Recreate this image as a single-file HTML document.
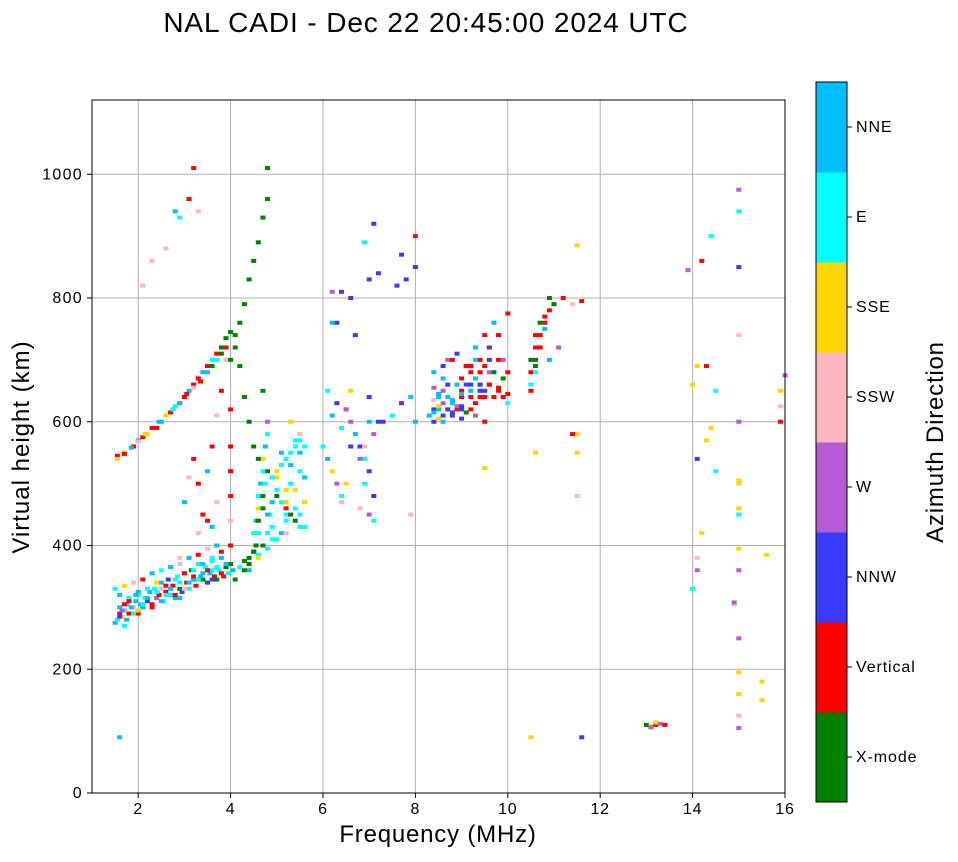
<!DOCTYPE html>
<html><head><meta charset="utf-8"><style>
body{margin:0;background:#fff;font-family:"Liberation Sans",sans-serif;}
svg text{font-family:"Liberation Sans",sans-serif;}
</style></head><body>
<svg id="chart" width="958" height="857" viewBox="0 0 958 857" xmlns="http://www.w3.org/2000/svg">
<rect width="958" height="857" fill="#fff"/>
<text x="426" y="32" font-size="28" letter-spacing="0.9" text-anchor="middle">NAL CADI - Dec 22 20:45:00 2024 UTC</text>
<g id="grid"></g>
<g id="marks"></g>
<rect x="92" y="100" width="693" height="693" fill="none" stroke="#000" stroke-width="1"/>
<g id="axes"></g>
<text x="438" y="842" font-size="24" letter-spacing="0.8" text-anchor="middle">Frequency (MHz)</text>
<text transform="translate(29,447) rotate(-90)" font-size="24" letter-spacing="1" text-anchor="middle">Virtual height (km)</text>
<g id="colorbar"></g>
<text transform="translate(943,442) rotate(-90)" font-size="24" letter-spacing="0.8" text-anchor="middle">Azimuth Direction</text>
</svg>
<script>
const xTicks=[2,4,6,8,10,12,14,16];
const yTicks=[0,200,400,600,800,1000];
const dirNames=["X-mode","Vertical","NNW","W","SSW","SSE","E","NNE"];
const dirColors=["#008000","#ff0000","#3a3aff","#b65ad6","#ffb6c1","#ffd700","#00ffff","#00bfff"];
// echoes: frequency (MHz)
const echoFreq=[
1.5,1.55,1.6,1.6,1.65,1.7,1.75,1.8,1.8,1.9,1.95,2.0,2.0,2.05,2.1,2.15,2.2,2.25,2.3,2.35,2.4,2.45,2.5,2.55,2.6,2.65,2.7,2.75,2.8,2.85,2.9,2.95,3.0,3.05,3.1,3.15,3.2,3.25,3.3,3.35,3.4,3.45,3.5,3.55,3.6,3.65,3.7,3.75,3.8,3.85,3.9,3.95,4.0,4.05,4.1,4.2,4.3,4.4,4.5,4.6,4.7,4.8,
1.5,1.6,1.7,1.8,1.9,2.0,2.1,2.2,2.3,2.4,2.5,2.6,2.7,2.8,2.9,3.0,3.1,3.2,3.3,3.4,3.5,3.6,3.7,3.8,1.7,2.1,2.5,2.9,3.3,3.6,
1.55,1.7,1.9,2.0,2.1,2.2,2.4,2.5,2.6,2.7,2.8,2.9,3.0,3.1,3.2,3.3,3.4,3.5,3.6,3.7,3.8,3.9,4.0,
1.55,1.7,1.85,2.0,2.15,2.3,2.45,2.6,2.75,2.9,3.05,3.2,3.35,3.5,3.6,3.7,3.8,3.9,
3.3,3.5,3.6,3.7,3.8,3.9,4.0,4.0,4.0,4.0,4.0,4.0,3.7,3.5,3.3,3.2,3.1,3.0,2.9,3.4,3.6,
4.5,4.55,4.6,4.6,4.65,4.7,4.7,4.75,4.8,4.8,4.85,4.9,5.0,5.0,5.1,5.1,5.2,5.2,5.3,5.3,5.4,5.4,5.5,5.5,5.5,5.4,5.3,5.2,5.1,5.0,4.9,4.8,5.6,5.6,5.6,5.6,4.3,4.4,4.6,4.9,5.2,5.5,
4.4,4.5,4.55,4.6,4.6,4.7,4.7,4.75,4.8,4.6,4.5,4.4,4.3,4.2,4.1,4.7,
6.0,6.1,6.2,6.3,6.4,6.5,6.6,6.7,6.8,6.9,7.0,7.1,7.2,6.2,6.4,6.6,6.8,7.0,6.1,6.3,6.5,6.9,7.1,6.3,6.7,6.2,6.6,7.0,7.3,7.5,7.7,7.9,8.0,6.4,6.8,6.5,7.0,7.1,6.9,7.9,
8.3,8.4,8.5,8.6,8.7,8.8,8.9,9.0,9.1,9.2,9.3,9.4,9.5,9.6,9.7,9.8,9.9,10.0,8.4,8.6,8.8,9.0,9.2,9.4,9.6,9.8,10.0,8.5,8.7,8.9,9.1,9.3,9.5,9.7,9.9,8.4,8.6,8.8,9.0,9.2,9.4,9.6,9.8,9.0,9.2,9.4,9.6,9.3,9.5,
10.5,10.6,10.7,10.8,10.9,11.0,11.2,11.4,11.6,10.5,10.6,10.7,10.8,10.9,10.5,10.6,10.7,10.8,10.5,10.6,10.7,10.9,11.1,11.5,11.5,10.6,
6.4,6.6,6.9,7.1,7.2,7.6,7.8,8.0,8.0,6.2,7.0,7.7,
4.8,4.8,4.7,4.6,4.5,4.4,4.3,4.2,4.1,4.0,3.2,3.3,2.9,2.6,2.3,2.1,3.1,2.8,
13.0,13.1,13.2,13.3,13.4,13.1,13.2,10.5,11.6,1.6,
13.9,14.0,14.1,14.2,14.3,14.4,14.5,14.1,14.3,14.5,14.4,14.2,14.1,14.1,14.0,15.0,15.0,15.0,15.0,15.0,15.0,15.0,15.0,15.0,15.0,15.0,15.0,15.0,15.0,15.0,15.0,15.5,15.5,15.6,15.9,15.9,16.0,15.9,14.9,14.9,11.5,11.4,11.5,9.5,10.6,
8.4,8.4,8.4,8.5,8.5,8.5,8.6,8.6,8.6,8.7,8.7,8.8,8.8,8.9,8.9,9.0,9.0,9.0,9.1,9.1,9.2,9.2,9.3,9.3,9.4,9.4,9.5,9.5,9.6,9.6,9.7,9.8,9.9,10.0,10.0,
1.6,1.65,1.7,1.75,1.8,1.85,1.9,1.95,2.0,2.1,2.2,2.3,2.4,2.5,2.6,2.7,2.8,2.9,3.0,3.1,3.2,3.3,3.4,3.5,3.6,3.7,3.8,3.9,
5.0,5.1,5.2,5.3,5.4,5.5,4.9,5.0,5.1,5.2,5.3,5.4,5.5,5.2,5.0,4.8
];
// echoes: virtual height (km)
const echoHeight=[
275,280,290,300,285,295,305,290,315,300,310,290,320,305,300,315,310,325,305,330,315,320,340,310,325,345,320,335,315,350,330,325,355,340,330,360,345,335,370,350,345,365,340,355,375,350,345,360,380,350,365,355,370,360,345,365,375,360,390,385,400,395,
330,320,335,310,340,325,345,330,355,340,360,335,365,345,370,355,380,360,385,370,395,380,400,390,270,300,330,315,345,360,
545,550,560,570,575,580,590,600,610,615,625,630,640,650,660,670,680,690,700,710,720,735,745,
540,548,558,568,580,590,600,610,620,630,645,655,665,680,690,700,710,720,
500,520,560,610,650,700,620,560,520,480,440,400,470,440,420,540,510,470,380,450,430,
420,440,460,480,500,520,540,560,580,600,450,470,490,510,530,550,440,470,500,530,460,490,520,550,580,570,600,450,420,410,430,450,430,470,510,560,360,370,380,410,420,450,
380,390,400,420,440,460,480,500,520,540,560,600,640,690,720,650,
560,540,520,500,480,620,600,580,560,540,520,580,600,610,590,560,540,600,650,630,620,500,480,760,740,810,650,640,600,610,630,640,600,470,460,500,450,440,560,450,
610,620,640,650,660,630,620,640,660,680,670,650,640,660,680,650,640,630,600,600,610,620,640,660,680,700,680,620,700,710,690,720,740,760,700,680,690,700,670,650,660,720,740,650,690,700,720,610,600,
700,720,740,760,780,790,800,790,795,680,700,740,770,800,660,690,720,750,650,740,760,700,720,550,580,680,
810,800,890,920,840,820,830,850,900,760,830,870,
1010,960,930,890,860,830,790,760,740,700,1010,940,930,880,860,820,960,940,
110,108,110,112,110,106,114,90,90,90,
845,660,690,860,690,900,650,540,570,520,590,420,380,360,330,975,940,850,740,600,505,500,450,395,360,250,195,160,125,105,460,180,150,385,600,650,675,625,305,308,480,580,885,525,550,
615,635,655,605,625,645,610,630,670,620,640,615,635,625,660,605,625,645,615,690,620,660,630,700,640,680,650,690,660,700,640,655,670,645,775,
285,295,305,280,310,300,290,320,295,305,315,300,325,310,320,330,320,340,330,340,350,345,355,360,345,365,355,370,
480,470,460,450,440,430,510,520,530,540,550,560,570,490,410,420
];
// echoes: azimuth direction index
const echoDir=[
7,6,1,7,5,6,7,1,6,4,7,1,6,7,1,6,2,7,1,6,3,1,7,6,1,2,6,1,7,6,0,2,7,1,6,0,7,1,6,7,0,6,2,7,6,1,0,6,7,1,0,6,0,7,0,6,0,7,0,6,0,6,
6,7,5,6,4,7,1,6,7,5,6,1,7,6,4,1,7,6,1,7,4,6,7,1,6,7,4,7,1,6,
1,5,1,7,1,5,1,7,5,1,6,1,1,7,1,1,7,1,6,1,0,0,0,
5,1,7,4,5,1,7,5,6,7,1,4,1,7,0,6,0,1,
1,7,1,4,1,4,1,1,1,1,4,1,4,1,4,1,4,7,4,1,7,
6,7,5,6,7,6,5,7,6,3,6,7,6,5,6,7,6,5,6,7,6,5,6,7,4,6,5,6,7,5,6,7,6,5,7,6,0,0,5,6,4,6,
0,0,0,6,0,0,0,6,0,0,0,0,0,0,0,0,
6,7,5,3,6,2,3,7,2,6,2,3,2,7,6,2,3,7,6,2,3,6,2,2,2,3,5,2,2,6,2,7,7,4,4,5,3,6,4,4,
7,2,7,3,2,7,1,1,2,1,7,2,1,1,0,1,1,6,2,7,2,2,1,7,3,1,1,7,3,2,1,7,1,7,3,7,2,1,1,7,2,1,1,1,1,1,2,3,1,
0,1,7,1,1,0,1,4,1,1,0,1,1,0,6,0,1,7,1,1,0,7,3,5,5,6,
2,2,6,2,2,2,2,2,1,7,2,2,
0,0,0,0,0,0,0,0,0,0,1,4,6,4,4,4,1,7,
0,5,1,3,1,3,5,5,2,7,3,5,5,1,1,
6,6,2,5,6,5,5,4,3,6,3,6,2,4,3,5,5,6,5,3,3,5,5,4,3,5,5,5,5,1,5,3,4,4,3,4,1,5,5,5,7,4,3,5,5,
7,2,3,7,2,7,2,7,3,7,2,2,7,0,1,1,2,1,7,1,1,2,1,1,2,1,1,0,1,1,2,3,1,7,1,
7,6,7,5,6,7,1,6,7,6,7,1,6,4,7,1,6,7,1,2,6,1,7,0,6,1,0,0,
6,6,5,6,6,6,6,6,5,6,6,6,6,6,6,6
];
const X0=92,X1=785,Y0=793,Y1=100,FMIN=1,FMAX=16,HMIN=0,HMAX=1120;
const xs=f=>X0+(f-FMIN)/(FMAX-FMIN)*(X1-X0);
const ys=h=>Y0-(h-HMIN)/(HMAX-HMIN)*(Y0-Y1);
const NS="http://www.w3.org/2000/svg";
function mk(tag,attrs,parent){const e=document.createElementNS(NS,tag);for(const k in attrs)e.setAttribute(k,attrs[k]);parent.appendChild(e);return e;}
const grid=document.getElementById('grid'),axes=document.getElementById('axes');
xTicks.forEach(t=>{const x=xs(t);
 if(t<16){const g=mk('line',{x1:x,x2:x,y1:Y1,y2:Y0,stroke:'#b0b0b0','stroke-width':1},grid);
 
 }
 const tk=mk('line',{x1:x,x2:x,y1:Y0,y2:Y0+5,stroke:'#000'},axes);
 
 
 const tx=mk('text',{x:x,y:Y0+21,'font-size':16,'letter-spacing':0.8,'text-anchor':'middle'},axes);tx.textContent=t;
 
 });
yTicks.forEach(t=>{const y=ys(t);
 if(t>0){const g=mk('line',{x1:X0,x2:X1,y1:y,y2:y,stroke:'#b0b0b0','stroke-width':1},grid);
 
 }
 const tk=mk('line',{x1:X0-5,x2:X0,y1:y,y2:y,stroke:'#000'},axes);
 
 
 const tx=mk('text',{x:X0-9,y:y+5,'font-size':16,'letter-spacing':1.3,'text-anchor':'end'},axes);tx.textContent=t;
 
 });
const marks=document.getElementById('marks');
const n=Math.min(echoFreq.length,echoHeight.length,echoDir.length);
for(let i=0;i<n;i++){
 const x=xs(echoFreq[i]),y=ys(echoHeight[i]);
 const r=mk('rect',{x:x-2.5,y:y-2,width:5,height:4,fill:dirColors[echoDir[i]]},marks);
 
 
}
const cb=document.getElementById('colorbar');
const CB0=82,CB1=802,bh=(CB1-CB0)/dirNames.length;
dirNames.forEach((nm,i)=>{const y=CB1-(i+1)*bh;
 const r=mk('rect',{x:816,y:y,width:31,height:bh+0.5,fill:dirColors[i]},cb);
 
 
 const tk=mk('line',{x1:847,x2:852,y1:y+bh/2,y2:y+bh/2,stroke:'#000'},cb);
 
 
 const tx=mk('text',{x:856,y:y+bh/2+5,'font-size':16,'letter-spacing':0.9},cb);tx.textContent=nm;
 
 });
const cf=mk('rect',{x:816,y:CB0,width:31,height:CB1-CB0,fill:'none',stroke:'#000'},cb);


</script>
</body></html>
